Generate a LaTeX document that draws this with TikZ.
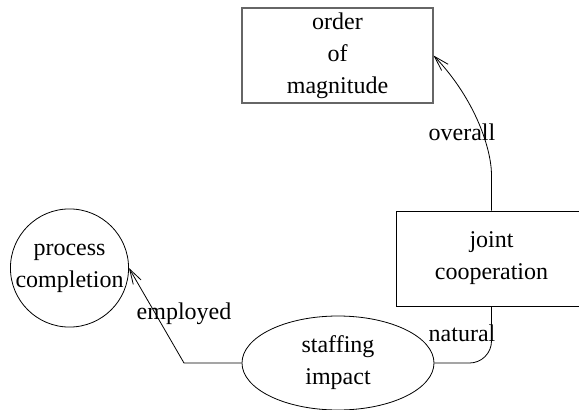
\documentclass[tikz,border=0pt]{standalone}
\usepackage{fontspec}
\setmainfont{Liberation Serif}
\usetikzlibrary{shapes.geometric,arrows.meta}
\tikzset{
  every node/.style={font=\fontsize{24}{32}\selectfont, align=center},
  boxnode/.style={draw, line width=0.8pt, minimum width=191pt, minimum height=95pt, inner sep=0pt},
  ellnode/.style={draw, ellipse, line width=0.8pt, minimum width=192pt, minimum height=94pt, inner sep=0pt},
  circnode/.style={draw, circle, line width=0.8pt, minimum size=115pt, inner sep=0pt},
  conn/.style={line width=0.8pt},
  arr/.style={conn, -{Straight Barb[length=15pt,width=9pt]}},
  lbl/.style={inner sep=0pt}
}
\begin{document}
\begin{tikzpicture}[x=1pt,y=-1pt]
\useasboundingbox (0,0) rectangle (579,410);
\node[boxnode, draw=black!60, line width=1.1pt] (order) at (337.5,55.5) {order\\of\\magnitude};
\node[boxnode] (joint) at (491.5,258.5) {joint\\cooperation};
\node[ellnode] (staff) at (338,363) {staffing\\impact};
\node[circnode] (proc) at (69.5,268) {process\\completion};
\coordinate (b1) at (184,363);
\coordinate (b2) at (491.5,175);
\draw[arr] (staff.west) -- (b1) -- (proc.east);
\draw[conn, rounded corners=22pt] (staff.east) -| (joint.south);
\draw[arr] (joint.north) -- (b2) .. controls (491.5,150) and (476,100) .. (order.east);
\node[lbl] (lemp) at (184,314) {employed};
\node[lbl] (lnat) at (462,333) {natural};
\node[lbl] (lov) at (462,132) {overall};
\end{tikzpicture}
\end{document}
